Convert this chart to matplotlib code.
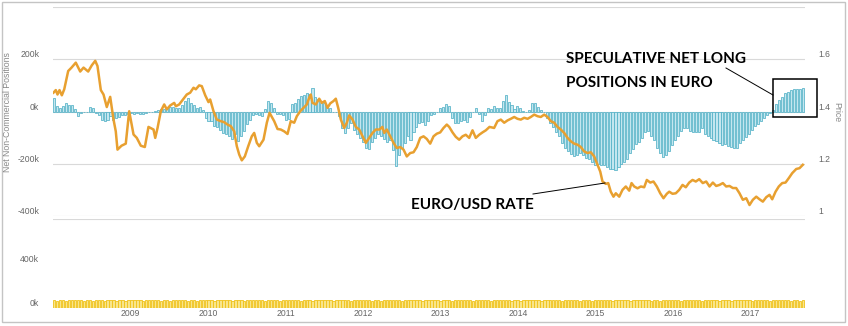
import numpy as np
import pandas as pd
import matplotlib
matplotlib.use("Agg")
import matplotlib.pyplot as plt
from matplotlib.patches import Rectangle
from matplotlib.lines import Line2D

# EUR/USD weekly-ish closes (decimal year, price)
price_years = [
    2008.006, 2008.036, 2008.058, 2008.084, 2008.114, 2008.145, 2008.196, 2008.239, 2008.294, 2008.351,
    2008.394, 2008.454, 2008.501, 2008.545, 2008.574, 2008.617, 2008.652, 2008.694, 2008.738, 2008.781,
    2008.810, 2008.832, 2008.884, 2008.939, 2008.983, 2009.039, 2009.081, 2009.133, 2009.185, 2009.232,
    2009.297, 2009.319, 2009.349, 2009.391, 2009.435, 2009.468, 2009.512, 2009.564, 2009.585, 2009.628,
    2009.684, 2009.726, 2009.770, 2009.813, 2009.843, 2009.886, 2009.920, 2009.964, 2010.006, 2010.028,
    2010.071, 2010.114, 2010.165, 2010.209, 2010.252, 2010.294, 2010.338, 2010.372, 2010.403, 2010.436,
    2010.475, 2010.519, 2010.565, 2010.596, 2010.630, 2010.661, 2010.716, 2010.759, 2010.794, 2010.854,
    2010.897, 2010.939, 2010.983, 2011.026, 2011.068, 2011.112, 2011.146, 2011.190, 2011.232, 2011.275,
    2011.306, 2011.326, 2011.348, 2011.391, 2011.435, 2011.468, 2011.507, 2011.542, 2011.577, 2011.619,
    2011.649, 2011.680, 2011.714, 2011.757, 2011.791, 2011.822, 2011.865, 2011.907, 2011.951, 2011.994,
    2012.036, 2012.080, 2012.123, 2012.165, 2012.213, 2012.250, 2012.274, 2012.307, 2012.351, 2012.394,
    2012.436, 2012.480, 2012.523, 2012.565, 2012.609, 2012.652, 2012.694, 2012.738, 2012.781, 2012.823,
    2012.867, 2012.910, 2012.952, 2012.996, 2013.039, 2013.081, 2013.112, 2013.155, 2013.197, 2013.241,
    2013.284, 2013.326, 2013.370, 2013.413, 2013.455, 2013.499, 2013.542, 2013.585, 2013.632, 2013.692,
    2013.735, 2013.778, 2013.822, 2013.865, 2013.907, 2013.951, 2013.994, 2014.036, 2014.080, 2014.123,
    2014.165, 2014.209, 2014.252, 2014.294, 2014.338, 2014.381, 2014.423, 2014.467, 2014.510, 2014.552,
    2014.596, 2014.639, 2014.681, 2014.725, 2014.768, 2014.810, 2014.854, 2014.897, 2014.939, 2014.983,
    2015.026, 2015.061, 2015.090, 2015.133, 2015.164, 2015.197, 2015.232, 2015.262, 2015.306, 2015.348,
    2015.391, 2015.435, 2015.465, 2015.499, 2015.542, 2015.585, 2015.628, 2015.662, 2015.706, 2015.748,
    2015.791, 2015.835, 2015.877, 2015.920, 2015.951, 2015.994, 2016.036, 2016.080, 2016.123, 2016.165,
    2016.209, 2016.252, 2016.294, 2016.338, 2016.384, 2016.428, 2016.471, 2016.514, 2016.557, 2016.600,
    2016.643, 2016.686, 2016.729, 2016.772, 2016.815, 2016.858, 2016.901, 2016.945, 2016.987, 2017.030,
    2017.074, 2017.116, 2017.159, 2017.203, 2017.245, 2017.280, 2017.323, 2017.365, 2017.409, 2017.452,
    2017.494, 2017.538, 2017.590, 2017.632, 2017.675,
]
price_vals = [
    1.472, 1.482, 1.465, 1.482, 1.462, 1.485, 1.555, 1.568, 1.587, 1.553,
    1.568, 1.553, 1.577, 1.594, 1.574, 1.482, 1.465, 1.417, 1.456, 1.369,
    1.324, 1.254, 1.269, 1.277, 1.401, 1.312, 1.299, 1.269, 1.264, 1.341,
    1.331, 1.299, 1.337, 1.401, 1.427, 1.408, 1.423, 1.433, 1.420, 1.427,
    1.449, 1.465, 1.472, 1.491, 1.485, 1.500, 1.497, 1.462, 1.436, 1.446,
    1.401, 1.369, 1.363, 1.359, 1.350, 1.344, 1.324, 1.267, 1.235, 1.213,
    1.228, 1.267, 1.305, 1.318, 1.280, 1.267, 1.292, 1.357, 1.395, 1.363,
    1.333, 1.331, 1.324, 1.314, 1.363, 1.357, 1.382, 1.401, 1.414, 1.427,
    1.453, 1.465, 1.433, 1.427, 1.449, 1.433, 1.440, 1.414, 1.431, 1.440,
    1.449, 1.414, 1.369, 1.337, 1.357, 1.385, 1.369, 1.341, 1.331, 1.305,
    1.280, 1.299, 1.318, 1.331, 1.331, 1.341, 1.318, 1.331, 1.305, 1.280,
    1.260, 1.264, 1.254, 1.228, 1.241, 1.244, 1.264, 1.299, 1.305, 1.295,
    1.277, 1.305, 1.315, 1.320, 1.337, 1.350, 1.341, 1.320, 1.303, 1.292,
    1.305, 1.311, 1.299, 1.328, 1.299, 1.311, 1.320, 1.328, 1.341, 1.337,
    1.363, 1.369, 1.357, 1.366, 1.372, 1.379, 1.372, 1.369, 1.376, 1.372,
    1.379, 1.388, 1.382, 1.379, 1.388, 1.379, 1.363, 1.357, 1.341, 1.331,
    1.318, 1.299, 1.286, 1.277, 1.273, 1.264, 1.247, 1.241, 1.244, 1.228,
    1.196, 1.170, 1.132, 1.123, 1.126, 1.093, 1.074, 1.087, 1.074, 1.100,
    1.113, 1.097, 1.126, 1.113, 1.106, 1.113, 1.110, 1.138, 1.128, 1.132,
    1.113, 1.087, 1.068, 1.085, 1.093, 1.085, 1.087, 1.100, 1.119, 1.110,
    1.128, 1.138, 1.132, 1.141, 1.126, 1.132, 1.113, 1.128, 1.115, 1.119,
    1.126, 1.113, 1.115, 1.107, 1.107, 1.087, 1.062, 1.068, 1.042, 1.062,
    1.074, 1.064, 1.055, 1.072, 1.081, 1.064, 1.093, 1.113, 1.126, 1.128,
    1.145, 1.164, 1.180, 1.183, 1.196,
]

# net non-commercial positions (thousands of contracts), one value every two weeks
net_positions = [
    53, 20, 15, 20, 31, 25, 23, 10, -18, -5,
    -2, 0, 17, 12, -5, -15, -31, -37, -31, -18,
    -31, -23, -20, -14, -12, -8, -5, -8, -5, -10,
    -10, -6, -2, 0, 2, 5, 8, 10, 14, 18,
    18, 12, 15, 24, 40, 53, 33, 24, 15, 18,
    5, -25, -37, -38, -56, -60, -72, -82, -88, -92,
    -105, -88, -114, -95, -75, -47, -31, -15, -8, -12,
    -18, 10, 40, 33, 15, -8, -8, -15, -31, -30,
    30, 33, 46, 59, 65, 72, 68, 90, 55, 46,
    33, 34, 22, 12, 0, 0, -18, -62, -82, -63,
    -44, -72, -85, -101, -115, -140, -145, -115, -100, -88,
    -95, -104, -118, -110, -146, -210, -168, -140, -121, -95,
    -108, -78, -58, -44, -40, -50, -35, -15, -8, 0,
    12, 18, 30, 20, -25, -44, -45, -35, -31, -40,
    -20, 0, 12, -10, -35, -12, 12, 8, 20, 12,
    12, 40, 65, 38, 24, 8, 20, 12, 2, 0,
    5, 33, 33, 16, 4, -2, -25, -44, -60, -80,
    -95, -121, -140, -150, -162, -172, -165, -159, -168, -178,
    -183, -195, -204, -200, -205, -205, -212, -220, -222, -225,
    -212, -202, -195, -180, -160, -145, -125, -115, -100, -80,
    -76, -92, -110, -140, -160, -174, -168, -150, -130, -110,
    -95, -75, -65, -62, -75, -79, -77, -80, -65, -85,
    -92, -102, -108, -112, -120, -128, -125, -131, -135, -138,
    -140, -120, -108, -98, -85, -70, -55, -48, -38, -25,
    -15, -5, 5, 28, 45, 55, 70, 73, 81, 85,
    85, 85, 90,
]

# lower panel volume bars (thousands), same report dates
volume = [
    72, 68, 74, 70, 66, 73, 71, 69, 75, 70,
    67, 72, 74, 68, 71, 73, 69, 66, 72, 75,
    70, 68, 73, 71, 67, 74, 72, 69, 70, 73,
    68, 71, 75, 69, 72, 70, 66, 73, 71, 68,
    74, 70, 69, 72, 75, 68, 71, 73, 67, 70,
    72, 74, 69, 71, 68, 73, 70, 72, 75, 69,
    67, 71, 73, 70, 68, 74, 72, 69, 71, 73,
    70, 66, 72, 74, 69, 71, 68, 73, 70, 72,
    75, 69, 71, 67, 73, 70, 72, 68, 74, 71,
    69, 73, 70, 72, 66, 71, 74, 69, 72, 70,
    68, 73, 71, 75, 69, 72, 70, 67, 73, 71,
    68, 74, 70, 72, 69, 71, 73, 66, 72, 70,
    74, 69, 71, 73, 68, 72, 70, 75, 69, 71,
    67, 73, 70, 72, 68, 74, 71, 69, 73, 70,
    72, 66, 71, 74, 69, 72, 70, 68, 73, 71,
    75, 69, 72, 70, 67, 73, 71, 68, 74, 70,
    72, 69, 71, 73, 66, 72, 70, 74, 69, 71,
    73, 68, 72, 70, 75, 69, 71, 67, 73, 70,
    72, 68, 74, 71, 69, 73, 70, 72, 66, 71,
    74, 69, 72, 70, 68, 73, 71, 75, 69, 72,
    70, 67, 73, 71, 68, 74, 70, 72, 69, 71,
    73, 66, 72, 70, 74, 69, 71, 73, 68, 72,
    70, 75, 69, 71, 67, 73, 70, 72, 68, 74,
    71, 69, 73, 70, 72, 66, 71, 74, 69, 72,
    70, 68, 73, 71, 75, 69, 72, 70, 67, 73,
    71, 68, 74,
]

report_dates = pd.date_range("2008-01-01", periods=len(net_positions), freq="14D")
bar_years = 2008 + (report_dates - pd.Timestamp("2008-01-01")).days / 365.25
bar_w = 14 / 365.25

year_ticks = list(range(2009, 2018))
left_ticks = [-400, -200, 0, 200]
left_labels = ["-400k", "-200k", "0k", "200k"]
price_ticks = [1.0, 1.2, 1.4, 1.6]
price_labels = ["1", "1.2", "1.4", "1.6"]
vol_ticks = [0, 400]
vol_labels = ["0k", "400k"]

W, H = 848, 326
fig = plt.figure(figsize=(W / 100, H / 100), dpi=100)
fig.patch.set_facecolor("white")

grey_txt = "#666666"
grid_c = "#d9d9d9"
tick_font = dict(family="Liberation Sans", size=6.2, color=grey_txt)


def px_box(x0, y0, x1, y1):
    # pixel rectangle (top-left origin) -> figure fraction [l, b, w, h]
    return [x0 / W, (H - y1) / H, (x1 - x0) / W, (y1 - y0) / H]


ax = fig.add_axes(px_box(53, 7, 805, 216))
ax2 = ax.twinx()
axv = fig.add_axes(px_box(53, 219, 805, 308))

# positions bars
ax.bar(bar_years, net_positions, width=bar_w * 0.7, align="edge",
       color="#c4e6ef", edgecolor="#52b1c7", linewidth=0.55, zorder=2)
ax.set_ylim(-400, 400)
ax.set_xlim(2008.0, 2017.703)
for v in [-400, -200, 0, 200, 400]:
    ax.axhline(v, color=grid_c, lw=0.8, zorder=1)
ax.set_yticks(left_ticks)
ax.set_yticklabels(left_labels, **tick_font)
for lab in ax.get_yticklabels():
    lab.set_verticalalignment("bottom")
ax.tick_params(axis="y", length=0, pad=10)
ax.set_xticks([])
for s in ax.spines.values():
    s.set_visible(False)

# EUR/USD line
ax2.plot(price_years, price_vals, color="#e8a030", lw=1.8, zorder=3,
         solid_joinstyle="round")
ax2.set_ylim(1.0, 1.8)
ax2.set_yticks(price_ticks)
ax2.set_yticklabels(price_labels, **tick_font)
for lab in ax2.get_yticklabels():
    lab.set_verticalalignment("bottom")
ax2.tick_params(axis="y", length=0, pad=10)
for s in ax2.spines.values():
    s.set_visible(False)

# lower volume panel
axv.bar(bar_years, volume, width=bar_w * 0.8, align="edge",
        color="#f8e58c", edgecolor="#f0c21a", linewidth=0.6)
axv.set_xlim(2008.0, 2017.703)
axv.set_ylim(0, 810)
axv.set_yticks(vol_ticks)
axv.set_yticklabels(vol_labels, **tick_font)
for lab in axv.get_yticklabels():
    lab.set_verticalalignment("bottom")
axv.tick_params(axis="y", length=0, pad=10)
axv.set_xticks(year_ticks)
axv.set_xticklabels([str(y) for y in year_ticks], **tick_font)
axv.tick_params(axis="x", length=0, pad=1)
for s in axv.spines.values():
    s.set_visible(False)
axv.axhline(810, color=grid_c, lw=0.8)

# axis titles
fig.text(8 / W, 1 - 112 / H, "Net Non-Commercial Positions", rotation=90,
         ha="center", va="center", family="Liberation Sans", size=6.3, color="#888888")
fig.text(837 / W, 1 - 112 / H, "Price", rotation=270,
         ha="center", va="center", family="Liberation Sans", size=6.3, color="#888888")

# callouts
note_font = dict(family="Lato", weight="bold", size=11, color="black")
fig.text(566 / W, 1 - 59 / H, "SPECULATIVE NET LONG", ha="left", va="center", **note_font)
fig.text(566 / W, 1 - 83 / H, "POSITIONS IN EURO", ha="left", va="center", **note_font)
fig.text(411 / W, 1 - 205 / H, "EURO/USD RATE", ha="left", va="center", **note_font)

fig.add_artist(Rectangle((773 / W, 1 - 117 / H), 44 / W, 38 / H, transform=fig.transFigure,
                         fill=False, edgecolor="black", lw=1.1))
fig.add_artist(Line2D([726 / W, 773 / W], [1 - 68 / H, 1 - 95 / H], transform=fig.transFigure,
                      color="black", lw=0.7))
fig.add_artist(Line2D([533 / W, 605 / W], [1 - 194 / H, 1 - 183 / H], transform=fig.transFigure,
                      color="black", lw=0.7))

# outer frame
fig.add_artist(Rectangle((2 / W, 1 - 322 / H), 843 / W, 320 / H, transform=fig.transFigure,
                         fill=False, edgecolor="#c4c4c4", lw=1.0))

fig.savefig("out.png", dpi=100, facecolor="white")
